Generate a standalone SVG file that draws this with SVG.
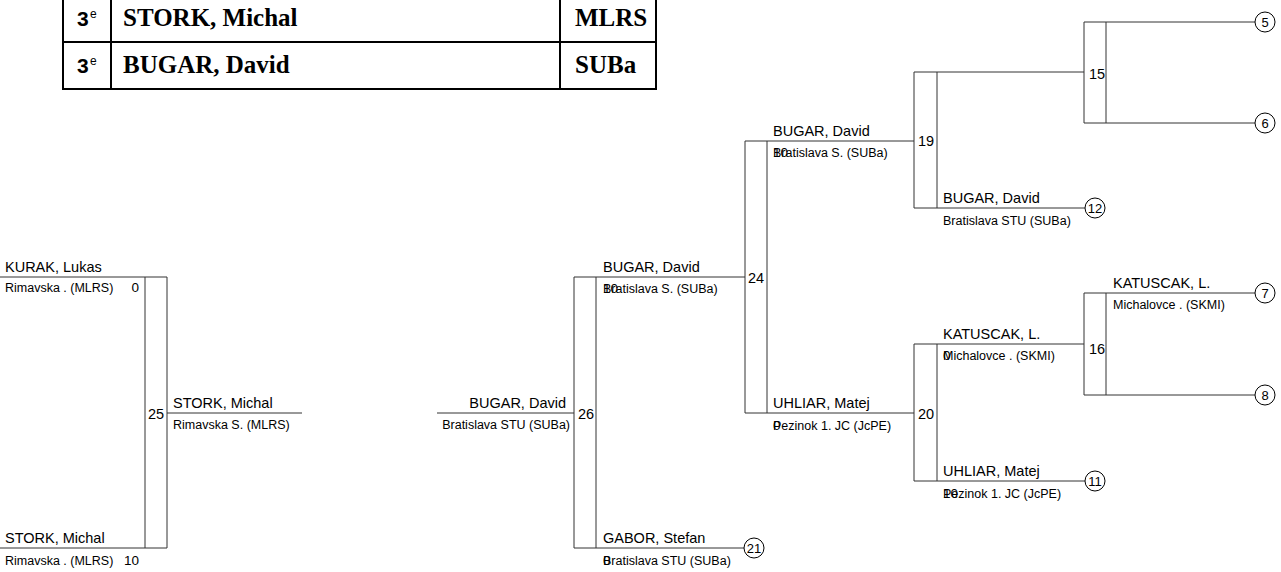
<svg xmlns="http://www.w3.org/2000/svg" width="1281" height="572" viewBox="0 0 1281 572">
<style>
.tb{fill:none;stroke:#000;stroke-width:2}
.c{stroke:#333;stroke-width:1;fill:none}
.nm{font-family:"Liberation Sans",Arial,sans-serif;font-size:14.5px;fill:#000}
.cl{font-family:"Liberation Sans",Arial,sans-serif;font-size:12.5px;fill:#000}
.sc{font-family:"Liberation Sans",Arial,sans-serif;font-size:13.5px;fill:#000}
.mn{font-family:"Liberation Sans",Arial,sans-serif;font-size:14.5px;fill:#000}
.cn{font-family:"Liberation Sans",Arial,sans-serif;font-size:13px;fill:#000;text-anchor:middle}
.cr{fill:#fff;stroke:#000;stroke-width:1}
.tn{font-family:"Liberation Serif","Times New Roman",serif;font-weight:bold;font-size:25px;fill:#000}
.tr{font-family:"Liberation Sans",Arial,sans-serif;font-weight:bold;font-size:21px;fill:#000}
.ts{font-family:"Liberation Sans",Arial,sans-serif;font-size:12px;fill:#000}
.r{text-anchor:end}
</style>
<g id="table">
<rect class="tb" x="63" y="-5" width="593" height="94"/>
<line class="tb" x1="63" y1="42" x2="656" y2="42"/>
<line class="tb" x1="111" y1="-5" x2="111" y2="89"/>
<line class="tb" x1="560" y1="-5" x2="560" y2="89"/>
<text class="tr" x="77" y="26">3</text><text class="ts" x="90" y="18">e</text>
<text class="tn" x="123" y="26">STORK, Michal</text>
<text class="tn" x="575" y="26">MLRS</text>
<text class="tr" x="77" y="73">3</text><text class="ts" x="90" y="65">e</text>
<text class="tn" x="123" y="73">BUGAR, David</text>
<text class="tn" x="575" y="73">SUBa</text>
</g>
<g id="connectors">
<!-- match 25 -->
<path class="c" d="M0 277H167M0 548H167M145 277V548M167 277V548M167 413H302"/>
<!-- match 26 -->
<path class="c" d="M437 413H574M574 277V548M596 277V548M574 277H745M574 548H744"/>
<!-- match 24 -->
<path class="c" d="M745 141V413M767 141V413M745 141H914M745 413H914"/>
<!-- match 19 -->
<path class="c" d="M914 72V208M937 72V208M914 72H1084M914 208H1085"/>
<!-- match 15 -->
<path class="c" d="M1084 22V123M1106 22V123M1084 22H1255M1084 123H1255"/>
<!-- match 20 -->
<path class="c" d="M914 344V481M937 344V481M914 344H1084M914 481H1085"/>
<!-- match 16 -->
<path class="c" d="M1084 293V395M1106 293V395M1084 293H1255M1084 395H1255"/>
</g>
<g id="m25">
<text class="nm" x="5" y="272">KURAK, Lukas</text>
<text class="cl" x="5" y="292">Rimavska . (MLRS)</text>
<text class="sc r" x="139" y="292">0</text>
<text class="nm" x="5" y="543">STORK, Michal</text>
<text class="cl" x="5" y="565">Rimavska . (MLRS)</text>
<text class="sc r" x="139" y="565">10</text>
<text class="mn" x="148" y="419">25</text>
<text class="nm" x="173" y="408">STORK, Michal</text>
<text class="cl" x="173" y="429">Rimavska S. (MLRS)</text>
</g>
<g id="m26">
<text class="nm r" x="566" y="408">BUGAR, David</text>
<text class="cl r" x="570" y="429">Bratislava STU (SUBa)</text>
<text class="mn" x="578" y="419">26</text>
<text class="nm" x="603" y="272">BUGAR, David</text>
<text class="sc" x="603" y="293">10</text>
<text class="cl" x="603" y="293">Bratislava S. (SUBa)</text>
<text class="nm" x="603" y="543">GABOR, Stefan</text>
<text class="sc" x="603" y="565">0</text>
<text class="cl" x="603" y="565">Bratislava STU (SUBa)</text>
</g>
<g id="n21"><circle class="cr" cx="754" cy="548" r="10"/><text class="cn" x="754" y="553">21</text></g>
<g id="m24">
<text class="mn" x="748" y="283">24</text>
<text class="nm" x="773" y="136">BUGAR, David</text>
<text class="sc" x="773" y="157">10</text>
<text class="cl" x="773" y="157">Bratislava S. (SUBa)</text>
<text class="nm" x="773" y="408">UHLIAR, Matej</text>
<text class="sc" x="773" y="430">0</text>
<text class="cl" x="773" y="430">Pezinok 1. JC (JcPE)</text>
</g>
<g id="m19">
<text class="mn" x="918" y="146">19</text>
<text class="nm" x="943" y="203">BUGAR, David</text>
<text class="cl" x="943" y="225">Bratislava STU (SUBa)</text>
</g>
<g id="n12"><circle class="cr" cx="1095" cy="208" r="10"/><text class="cn" x="1095" y="213">12</text></g>
<g id="m15">
<text class="mn" x="1089" y="79">15</text>
</g>
<g id="n5"><circle class="cr" cx="1265" cy="22" r="10"/><text class="cn" x="1265" y="27">5</text></g>
<g id="n6"><circle class="cr" cx="1265" cy="123" r="10"/><text class="cn" x="1265" y="128">6</text></g>
<g id="m20">
<text class="mn" x="918" y="419">20</text>
<text class="nm" x="943" y="339">KATUSCAK, L.</text>
<text class="sc" x="943" y="360">0</text>
<text class="cl" x="943" y="360">Michalovce . (SKMI)</text>
<text class="nm" x="943" y="476">UHLIAR, Matej</text>
<text class="sc" x="943" y="498">10</text>
<text class="cl" x="943" y="498">Pezinok 1. JC (JcPE)</text>
</g>
<g id="n11"><circle class="cr" cx="1095" cy="481" r="10"/><text class="cn" x="1095" y="486">11</text></g>
<g id="m16">
<text class="mn" x="1089" y="354">16</text>
<text class="nm" x="1113" y="288">KATUSCAK, L.</text>
<text class="cl" x="1113" y="309">Michalovce . (SKMI)</text>
</g>
<g id="n7"><circle class="cr" cx="1265" cy="293" r="10"/><text class="cn" x="1265" y="298">7</text></g>
<g id="n8"><circle class="cr" cx="1265" cy="395" r="10"/><text class="cn" x="1265" y="400">8</text></g>
</svg>
